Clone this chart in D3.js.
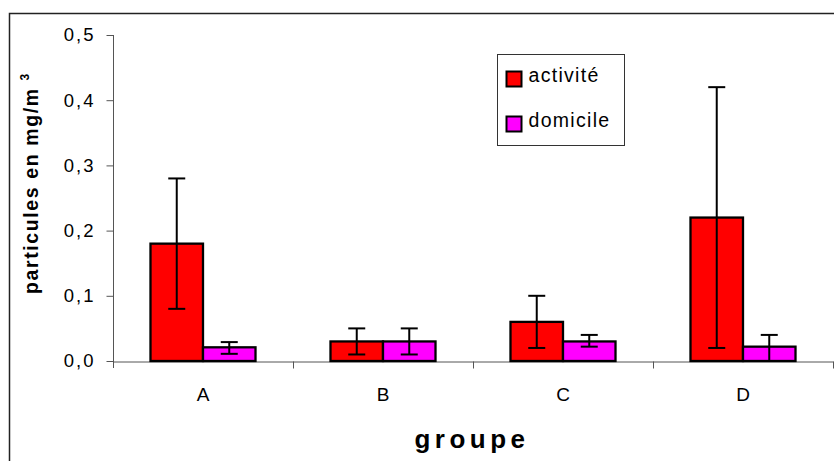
<!DOCTYPE html>
<html>
<head>
<meta charset="utf-8">
<script src="https://cdn.jsdelivr.net/npm/d3@7"></script>
<style>
  html, body { margin: 0; padding: 0; background: #fff; }
  svg { display: block; }
  text { font-family: "Liberation Sans", Arial, sans-serif; fill: #000; }
</style>
</head>
<body>
<svg id="chart" width="834" height="461"></svg>
<script>
// Particle concentration by group, at work vs. at home (mg/m³)
const categories = ["A", "B", "C", "D"];
const seriesNames = ["activité", "domicile"];
const activite = [0.18, 0.03, 0.06, 0.22];
const activiteLow = [0.08, 0.01, 0.02, 0.02];
const activiteHigh = [0.28, 0.05, 0.10, 0.42];
const domicile = [0.021, 0.03, 0.03, 0.022];
const domicileLow = [0.011, 0.01, 0.022, 0.0];
const domicileHigh = [0.029, 0.05, 0.04, 0.04];
const yTicks = [0, 0.1, 0.2, 0.3, 0.4, 0.5];
const seriesColors = ["#ff0000", "#ff00ff"];

const rows = categories.map((c, i) => ({
  cat: c,
  values: [
    { s: seriesNames[0], v: activite[i], lo: activiteLow[i], hi: activiteHigh[i] },
    { s: seriesNames[1], v: domicile[i], lo: domicileLow[i], hi: domicileHigh[i] }
  ]
}));

const svg = d3.select("#chart");

// chart frame
svg.append("path")
  .attr("d", "M9.5,470 L9.5,13.5 L840,13.5")
  .attr("fill", "none").attr("stroke", "#222").attr("stroke-width", 1.5);

const plotLeft = 113, plotRight = 833, plotTop = 35, plotBottom = 361;

const x = d3.scaleBand().domain(categories).range([plotLeft, plotRight]).padding(0);
const xs = d3.scaleBand().domain(seriesNames).range([0, x.bandwidth()])
  .paddingInner(0).paddingOuter(0.714);
const y = d3.scaleLinear().domain([0, 0.5]).range([plotBottom, plotTop]);
const color = d3.scaleOrdinal().domain(seriesNames).range(seriesColors);

const frLocale = d3.formatLocale({ decimal: ",", thousands: " ", grouping: [3], currency: ["", " €"] });
const fmt = frLocale.format(".1f");

// y axis
const yAxis = svg.append("g")
  .attr("transform", `translate(${plotLeft + 0.5},0)`)
  .call(d3.axisLeft(y).tickValues(yTicks).tickFormat(fmt).tickSize(7).tickPadding(11).tickSizeOuter(0));
yAxis.select(".domain").attr("stroke", "#555").attr("d", `M0,${plotTop}V${plotBottom + 7}`);
yAxis.selectAll(".tick line").attr("stroke", "#555");
yAxis.selectAll(".tick text")
  .attr("font-size", 18.5).attr("letter-spacing", 2)
  .attr("font-family", "Liberation Sans, Arial, sans-serif").attr("fill", "#000");

// x axis: category labels centred, tick marks on the category boundaries
const xAxis = svg.append("g")
  .attr("transform", `translate(0,${plotBottom + 0.5})`)
  .call(d3.axisBottom(x).tickSize(0).tickPadding(26));
xAxis.select(".domain").attr("stroke", "#555");
xAxis.selectAll(".tick text")
  .attr("font-size", 19)
  .attr("font-family", "Liberation Sans, Arial, sans-serif").attr("fill", "#000");
xAxis.selectAll(".boundary")
  .data(categories)
  .join("line")
  .attr("class", "boundary")
  .attr("x1", d => x(d) + x.bandwidth() + 0.5)
  .attr("x2", d => x(d) + x.bandwidth() + 0.5)
  .attr("y1", 0).attr("y2", 7)
  .attr("stroke", "#555");

// bars
const groups = svg.append("g").selectAll("g")
  .data(rows).join("g")
  .attr("transform", d => `translate(${x(d.cat)},0)`);

groups.selectAll("rect")
  .data(d => d.values).join("rect")
  .attr("x", d => xs(d.s))
  .attr("y", d => y(d.v))
  .attr("width", xs.bandwidth())
  .attr("height", d => y(0) - y(d.v))
  .attr("fill", d => color(d.s))
  .attr("stroke", "#000").attr("stroke-width", 2.3);

// error bars
const capW = 17;
const err = groups.selectAll("g.err")
  .data(d => d.values).join("g").attr("class", "err")
  .attr("transform", d => `translate(${xs(d.s) + xs.bandwidth() / 2},0)`);
err.append("line")
  .attr("x1", 0).attr("x2", 0)
  .attr("y1", d => y(d.hi)).attr("y2", d => y(d.lo))
  .attr("stroke", "#000").attr("stroke-width", 2);
err.append("line")
  .attr("x1", -capW / 2).attr("x2", capW / 2)
  .attr("y1", d => y(d.hi)).attr("y2", d => y(d.hi))
  .attr("stroke", "#000").attr("stroke-width", 2);
err.filter(d => d.lo > 0).append("line")
  .attr("x1", -capW / 2).attr("x2", capW / 2)
  .attr("y1", d => y(d.lo)).attr("y2", d => y(d.lo))
  .attr("stroke", "#000").attr("stroke-width", 2);

// axis titles
svg.append("text")
  .attr("transform", "translate(38,183) rotate(-90)")
  .attr("text-anchor", "middle")
  .attr("font-size", 19.5).attr("font-weight", "bold").attr("letter-spacing", 1.6)
  .text("particules en mg/m ")
  .append("tspan").attr("dy", -9).attr("font-size", 12).text("3");

svg.append("text")
  .attr("x", 472).attr("y", 448)
  .attr("text-anchor", "middle")
  .attr("font-size", 26).attr("font-weight", "bold").attr("letter-spacing", 4.5)
  .text("groupe");

// legend
const legend = svg.append("g").attr("transform", "translate(497.5,54.5)");
legend.append("rect").attr("width", 127).attr("height", 91)
  .attr("fill", "#fff").attr("stroke", "#333").attr("stroke-width", 1);
const li = legend.selectAll("g.item").data(seriesNames).join("g")
  .attr("class", "item")
  .attr("transform", (d, i) => `translate(9,${17 + i * 45})`);
li.append("rect").attr("width", 15).attr("height", 15)
  .attr("fill", d => color(d)).attr("stroke", "#000").attr("stroke-width", 2);
li.append("text").attr("x", 22).attr("y", 10)
  .attr("font-size", 19.5).attr("letter-spacing", 1.3)
  .text(d => d);
</script>
</body>
</html>
